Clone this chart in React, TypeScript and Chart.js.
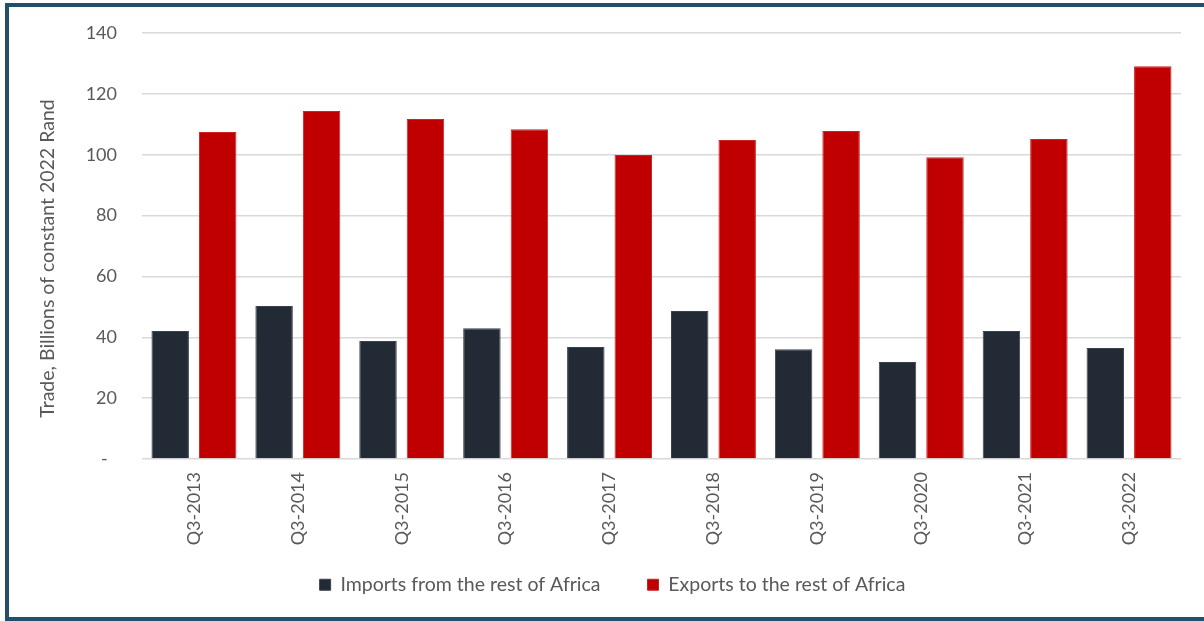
import React, { useEffect, useRef } from "react";
import { Chart, registerables } from "chart.js";

Chart.register(...registerables);

const categories = [
  "Q3-2013", "Q3-2014", "Q3-2015", "Q3-2016", "Q3-2017",
  "Q3-2018", "Q3-2019", "Q3-2020", "Q3-2021", "Q3-2022",
];
const importsFromAfrica = [42.1, 50.3, 38.8, 43.0, 36.8, 48.6, 36.1, 31.9, 42.1, 36.5];
const exportsToAfrica = [107.5, 114.4, 111.7, 108.4, 99.9, 104.8, 107.8, 99.2, 105.2, 129.1];
const yTicks = [0, 20, 40, 60, 80, 100, 120, 140];
const yTitle = "Trade, Billions of constant 2022 Rand";
const seriesNames = ["Imports from the rest of Africa", "Exports to the rest of Africa"];

const FONT = "Lato, 'Open Sans', sans-serif";
const TEXT = "#595959";

// Moves the legend box after layout so it sits where the reference has it.
const legendShift = {
  id: "legendShift",
  afterLayout(chart: any) {
    const lg = chart.legend;
    if (!lg) return;
    lg.top -= 19;
    lg.bottom = lg.top + 80;
    lg.height = 80;
    lg.left += 7;
    lg.right += 7;
  },
};

export default function App() {
  const ref = useRef<HTMLCanvasElement | null>(null);

  useEffect(() => {
    if (!ref.current) return;
    const chart = new Chart(ref.current, {
      type: "bar",
      data: {
        labels: categories,
        datasets: [
          {
            label: seriesNames[0],
            data: importsFromAfrica,
            backgroundColor: "#222A35",
            borderColor: "#3A424E",
            borderWidth: 1,
            categoryPercentage: 0.914,
            barPercentage: 0.789,
          },
          {
            label: seriesNames[1],
            data: exportsToAfrica,
            backgroundColor: "#C00000",
            borderColor: "#CC2424",
            borderWidth: 1,
            categoryPercentage: 0.914,
            barPercentage: 0.789,
          },
        ],
      },
      plugins: [legendShift],
      options: {
        animation: false,
        responsive: false,
        maintainAspectRatio: false,
        events: [],
        layout: { padding: { left: 30, right: 23, top: 33, bottom: 34 } },
        plugins: {
          tooltip: { enabled: false },
          legend: {
            display: true,
            position: "bottom",
            maxHeight: 40,
            labels: {
              boxWidth: 11,
              boxHeight: 11,
              padding: 47,
              color: TEXT,
              font: { family: FONT, size: 19.5 },
            },
          },
        },
        scales: {
          x: {
            afterFit: (s: any) => {
              s.height = 88;
            },
            grid: { display: false, drawTicks: false },
            border: { display: false },
            ticks: {
              color: TEXT,
              font: { family: FONT, size: 18 },
              maxRotation: 90,
              minRotation: 90,
              padding: 13,
            },
          },
          y: {
            min: 0,
            max: 140,
            afterFit: (s: any) => {
              s.width = 112;
              s.paddingTop = 0;
              s.paddingBottom = 0;
            },
            afterBuildTicks: (s: any) => {
              s.ticks = yTicks.map((v) => ({ value: v }));
            },
            grid: { color: "#D9D9D9", lineWidth: 1.5, drawTicks: false },
            border: { display: false },
            ticks: {
              color: TEXT,
              font: { family: FONT, size: 18 },
              padding: 25,
              callback: (v: any) => (Number(v) === 0 ? "-  " : String(v)),
            },
            title: {
              display: true,
              text: yTitle + "     ",
              color: TEXT,
              font: { family: FONT, size: 19.5 },
              padding: { top: 6, bottom: 0 },
            },
          },
        },
      },
    });
    return () => chart.destroy();
  }, []);

  return (
    <div style={{ position: "fixed", left: 0, top: 0, width: 1204, height: 621, overflow: "hidden", background: "#fff" }}>
      <div
        style={{
          position: "absolute",
          left: 5,
          top: 3,
          width: 1400,
          height: 618,
          boxSizing: "border-box",
          border: "4px solid #215068",
          borderRight: "none",
        }}
      />
      <canvas ref={ref} width={1204} height={621} style={{ position: "absolute", left: 0, top: 0, width: 1204, height: 621 }} />
    </div>
  );
}
